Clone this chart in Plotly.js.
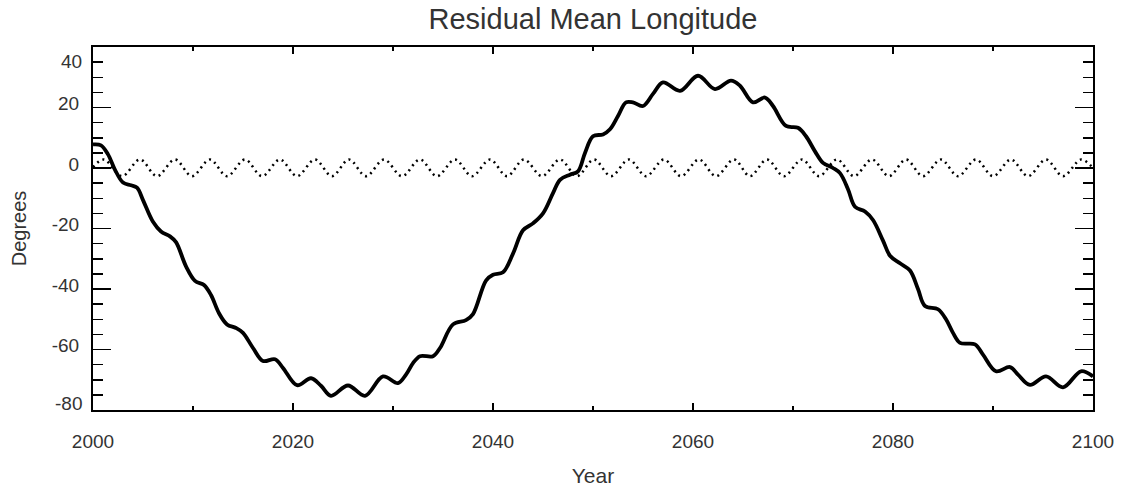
<!DOCTYPE html>
<html>
<head>
<meta charset="utf-8">
<script src="https://cdn.plot.ly/plotly-3.0.1.min.js"></script>
<style>
  html, body { margin: 0; padding: 0; background: #fff; }
  #chart { width: 1121px; height: 487px; }
</style>
</head>
<body>
<div id="chart"></div>
<script>
// Solid curve: total residual mean longitude
const solidYears = [
  2000.0, 2000.8, 2001.5, 2002.2, 2003.0, 2003.8, 2004.4, 2005.0, 2006.0, 2006.8,
  2007.7, 2008.3, 2009.3, 2010.2, 2011.1, 2011.8, 2012.6, 2013.4, 2014.3, 2015.0,
  2016.0, 2017.0, 2018.2, 2019.0, 2020.4, 2021.8, 2022.8, 2023.8, 2025.5, 2027.2,
  2029.0, 2030.5, 2031.3, 2032.0, 2032.7, 2034.0, 2034.7, 2036.0, 2037.3, 2038.0,
  2039.3, 2040.0, 2041.0, 2042.0, 2043.0, 2044.0, 2045.0, 2046.0, 2046.7, 2047.7,
  2048.5, 2049.2, 2050.0, 2051.0, 2051.7, 2052.5, 2053.3, 2054.0, 2055.0, 2056.0,
  2057.0, 2058.7, 2060.5, 2062.2, 2063.8, 2064.7, 2066.0, 2067.2, 2068.0, 2069.3,
  2070.5, 2071.3, 2072.2, 2073.0, 2074.0, 2074.7, 2075.5, 2076.2, 2077.2, 2078.0,
  2079.0, 2079.7, 2080.7, 2081.7, 2082.5, 2083.2, 2084.5, 2085.3, 2086.0, 2086.7,
  2088.2, 2089.0, 2090.3, 2091.7, 2092.5, 2093.7, 2095.3, 2097.0, 2098.8, 2100.0
];
const solidDegrees = [
  7.8, 7.5, 4.5, -0.6, -4.8, -5.7, -6.5, -10.6, -17.8, -21.0,
  -22.6, -24.5, -32.5, -37.3, -38.7, -42.0, -48.0, -51.7, -52.9, -54.5,
  -59.5, -63.8, -63.2, -66.1, -71.8, -69.5, -72.0, -75.3, -71.9, -75.3,
  -68.9, -71.1, -68.3, -64.5, -62.2, -62.2, -59.5, -51.7, -50.3, -48.3,
  -37.2, -35.3, -34.5, -28.3, -20.6, -18.3, -15.0, -8.3, -3.9, -2.2,
  -1.1, 5.0, 10.5, 11.1, 12.8, 17.2, 21.7, 21.7, 20.5, 24.5,
  28.3, 25.5, 30.5, 26.1, 28.9, 27.2, 21.7, 23.3, 20.5, 13.9,
  13.3, 10.5, 5.5, 1.7, 0.0, -1.7, -7.0, -12.8, -14.4, -17.2,
  -24.0, -29.0, -31.5, -33.9, -40.0, -45.6, -46.7, -50.0, -54.5, -57.8,
  -58.3, -61.7, -67.2, -65.8, -68.3, -71.7, -68.9, -72.5, -67.2, -68.9
];

// Dotted curve: short-period term (peaks and troughs)
const dottedYears = [
  2000.0, 2001.1, 2002.9, 2004.7, 2006.4, 2008.2, 2009.9, 2011.7, 2013.4, 2015.2,
  2016.9, 2018.7, 2020.4, 2022.2, 2023.9, 2025.6, 2027.3, 2029.1, 2030.9, 2032.7,
  2034.4, 2036.2, 2037.9, 2039.7, 2041.4, 2043.1, 2044.9, 2046.7, 2048.4, 2050.1,
  2051.8, 2053.6, 2055.3, 2057.1, 2058.8, 2060.6, 2062.3, 2064.1, 2065.7, 2067.4,
  2069.1, 2070.9, 2072.6, 2074.4, 2076.1, 2077.9, 2079.6, 2081.3, 2083.0, 2084.8,
  2086.5, 2088.3, 2090.0, 2091.8, 2093.5, 2095.3, 2097.0, 2098.8, 2100.0
];
const dottedDegrees = [
  0.3, 2.8, -2.7, 2.8, -2.7, 2.8, -2.7, 2.8, -2.7, 2.8,
  -2.7, 2.8, -2.7, 2.8, -2.7, 2.8, -2.7, 2.8, -2.7, 2.8,
  -2.7, 2.8, -2.7, 2.8, -2.7, 2.8, -2.7, 2.8, -2.7, 2.8,
  -2.7, 2.8, -2.7, 2.8, -2.7, 2.8, -2.7, 2.8, -2.7, 2.8,
  -2.7, 2.8, -2.7, 2.8, -2.7, 2.8, -2.7, 2.8, -2.7, 2.8,
  -2.7, 2.8, -2.7, 2.8, -2.7, 2.8, -2.7, 2.8, 0.0
];

const yTickVals = [-80, -60, -40, -20, 0, 20, 40];
const yTickText = ['', '-60', '-40', '-20', '0', '20', ''];
const xTickVals = [2000, 2020, 2040, 2060, 2080, 2100];
const xTickText = ['2000', '2020', '2040', '2060', '2080', '2100'];
const titleText = 'Residual Mean Longitude';
const xTitle = 'Year';
const yTitle = 'Degrees';

const fontFam = 'Liberation Sans, Arial, Helvetica, sans-serif';
const txtColor = '#333';

const traces = [
  {
    x: dottedYears, y: dottedDegrees, type: 'scatter', mode: 'lines',
    line: { color: '#000', width: 2.5, dash: '2px,4px', shape: 'spline', smoothing: 1 },
    hoverinfo: 'skip', showlegend: false
  },
  {
    x: solidYears, y: solidDegrees, type: 'scatter', mode: 'lines',
    line: { color: '#000', width: 3.8, shape: 'spline', smoothing: 1 },
    hoverinfo: 'skip', showlegend: false
  }
];

const layout = {
  width: 1121, height: 487,
  margin: { l: 93, r: 28, t: 47, b: 77 },
  paper_bgcolor: '#fff', plot_bgcolor: '#fff',
  font: { family: fontFam, color: txtColor, size: 19 },
  title: { text: titleText, x: 0.5, xref: 'paper', xanchor: 'center', y: 0.962, yanchor: 'middle',
           font: { family: fontFam, size: 29, color: txtColor } },
  xaxis: {
    range: [2000, 2100], tickmode: 'array', tickvals: xTickVals, ticktext: xTickText,
    ticks: 'inside', ticklen: 7, tickwidth: 1.5, tickcolor: '#000',
    minor: { dtick: 10, tick0: 2000, ticklen: 4, tickwidth: 1.5, tickcolor: '#000', ticks: 'inside' },
    showline: true, linecolor: '#000', linewidth: 2, mirror: 'ticks',
    showgrid: false, zeroline: false, ticklabelstandoff: 13,
    tickfont: { family: fontFam, size: 19, color: txtColor },
    title: { text: xTitle, standoff: 18, font: { family: fontFam, size: 21, color: txtColor } }
  },
  yaxis: {
    range: [-80, 40], tickmode: 'array', tickvals: yTickVals, ticktext: yTickText,
    ticks: 'inside', ticklen: 18, tickwidth: 1.5, tickcolor: '#000',
    minor: { dtick: 5, tick0: 0, ticklen: 10, tickwidth: 1.5, tickcolor: '#000', ticks: 'inside' },
    showline: true, linecolor: '#000', linewidth: 2, mirror: 'ticks',
    showgrid: false, zeroline: false, ticklabelstandoff: 8, ticklabelshift: -4,
    tickfont: { family: fontFam, size: 19, color: txtColor },
    title: { text: yTitle, standoff: 20, font: { family: fontFam, size: 20, color: txtColor } }
  },
  annotations: [
    { text: '40', xref: 'paper', yref: 'y', x: 0, y: 35.3, xanchor: 'right', yanchor: 'middle',
      xshift: -9, showarrow: false, font: { family: fontFam, size: 19, color: txtColor } },
    { text: '-80', xref: 'paper', yref: 'y', x: 0, y: -78, xanchor: 'right', yanchor: 'middle',
      xshift: -9, showarrow: false, font: { family: fontFam, size: 19, color: txtColor } }
  ]
};

Plotly.newPlot('chart', traces, layout, { displayModeBar: false, staticPlot: true });
</script>
</body>
</html>
